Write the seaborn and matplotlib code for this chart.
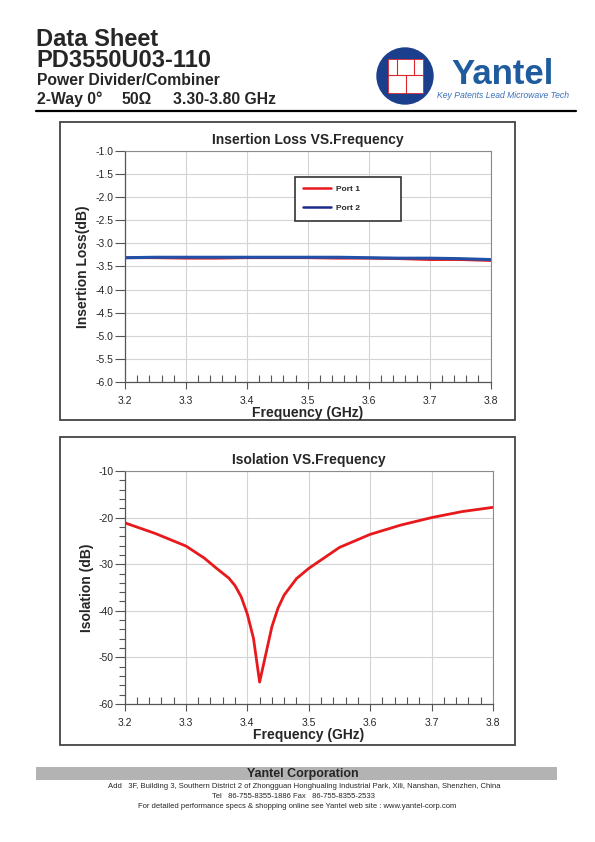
import matplotlib
matplotlib.use("Agg")
import matplotlib.pyplot as plt
import seaborn as sns
from matplotlib.patches import Rectangle, Circle
from matplotlib.lines import Line2D
from matplotlib.ticker import MultipleLocator, FormatStrFormatter

# ---- data ----
il_freq = [3.20, 3.25, 3.30, 3.35, 3.40, 3.45, 3.50, 3.55, 3.60, 3.65, 3.70, 3.75, 3.80]
il_port1 = [-3.31, -3.31, -3.32, -3.32, -3.31, -3.31, -3.31, -3.32, -3.32, -3.33, -3.35, -3.35, -3.37]
il_port2 = [-3.31, -3.30, -3.30, -3.30, -3.30, -3.30, -3.30, -3.30, -3.31, -3.32, -3.32, -3.33, -3.35]

iso_freq = [3.20, 3.25, 3.30, 3.33, 3.35, 3.37, 3.38, 3.39, 3.40, 3.41, 3.42,
            3.44, 3.45, 3.46, 3.48, 3.50, 3.55, 3.60, 3.65, 3.70, 3.75, 3.80]
iso_db = [-21.1, -23.4, -26.1, -28.7, -30.9, -33.0, -34.6, -37.0, -40.7, -45.9, -55.3,
          -43.4, -39.4, -36.6, -33.1, -30.9, -26.4, -23.6, -21.6, -20.0, -18.7, -17.8]

x_ticks = [3.2, 3.3, 3.4, 3.5, 3.6, 3.7, 3.8]
legend_labels = ["Port 1", "Port 2"]

sns.set_style("white")
plt.rcParams['font.family'] = ['Liberation Sans', 'DejaVu Sans']
plt.rcParams['axes.unicode_minus'] = False

W, H = 595, 842
fig = plt.figure(figsize=(W / 100, H / 100), dpi=100)

# overlay axes in pixel coordinates for the page decoration
deco = fig.add_axes([0, 0, 1, 1])
deco.set_xlim(0, W)
deco.set_ylim(H, 0)
deco.axis('off')


def px_axes(x0, y0, x1, y1):
    return fig.add_axes([x0 / W, 1 - y1 / H, (x1 - x0) / W, (y1 - y0) / H])


# ---- header ----
deco.text(36, 46, "Data Sheet", fontsize=17, fontweight='bold', va='baseline')
deco.text(36, 67, "PD3550U03-110", fontsize=17, fontweight='bold', va='baseline')
deco.text(37, 85, "Power Divider/Combiner", fontsize=11.3, fontweight='bold', va='baseline')
deco.text(37, 104, "2-Way 0°", fontsize=11.3, fontweight='bold', va='baseline')
deco.text(121, 104, "50Ω", fontsize=11.3, fontweight='bold', va='baseline')
deco.text(173, 104, "3.30-3.80 GHz", fontsize=11.3, fontweight='bold', va='baseline')
deco.plot([36, 576], [111, 111], color='black', lw=1.6)

# logo
deco.add_patch(Circle((405, 76), 28, color='#1b3f8c'))
deco.add_patch(Rectangle((388, 59), 35, 34, facecolor='white', edgecolor='#d9262c', lw=0.6))
deco.plot([388, 423], [75, 75], color='#d9262c', lw=0.8)
deco.plot([397, 397], [59, 75], color='#d9262c', lw=0.8)
deco.plot([414, 414], [59, 75], color='#d9262c', lw=0.8)
deco.plot([406, 406], [75, 93], color='#d9262c', lw=0.8)
deco.text(451, 84, "Yantel", fontsize=25, fontweight='bold', color='#1f5c9e',
          family=['Liberation Sans'], va='baseline')
deco.text(437, 96, "Key Patents Lead Microwave Tech", fontsize=6.2, style='italic',
          color='#3a70b8', va='center')

# chart frames
deco.add_patch(Rectangle((60, 122), 455, 298, fill=False, edgecolor='#444444', lw=1.3))
deco.add_patch(Rectangle((60, 437), 455, 308, fill=False, edgecolor='#444444', lw=1.3))

# ---- footer ----
deco.add_patch(Rectangle((36, 767), 521, 13, color='#b3b3b3', lw=0))
deco.text(303, 773.5, "Yantel Corporation", fontsize=9, fontweight='bold', ha='center', va='center')
deco.text(304, 787, "Add   3F, Building 3, Southern District 2 of Zhongguan Honghualing Industrial Park, Xili, Nanshan, Shenzhen, China",
          fontsize=5.5, ha='center', va='center')
deco.text(293, 797, "Tel   86-755-8355-1886 Fax   86-755-8355-2533", fontsize=5.5, ha='center', va='center')
deco.text(297, 806, "For detailed performance specs & shopping online see Yantel web site : www.yantel-corp.com",
          fontsize=5.5, ha='center', va='center')


def style_axes(ax):
    ax.set_facecolor('white')
    ax.grid(True, which='major', color='#d4d4d4', lw=0.8)
    ax.set_axisbelow(True)
    for side in ['top', 'right']:
        ax.spines[side].set_color('#8a8a8a')
        ax.spines[side].set_linewidth(0.8)
    for side in ['left', 'bottom']:
        ax.spines[side].set_color('#555555')
        ax.spines[side].set_linewidth(0.9)
    ax.set_xlim(3.2, 3.8)
    ax.set_xticks(x_ticks)
    ax.xaxis.set_major_formatter(FormatStrFormatter('%.1f'))
    ax.xaxis.set_minor_locator(MultipleLocator(0.02))
    ax.tick_params(axis='x', which='major', direction='out', length=5, width=0.8,
                   color='#555555', labelsize=7.5, pad=5, bottom=True)
    ax.tick_params(axis='x', which='minor', direction='in', length=5, width=0.8,
                   color='#555555', bottom=True)
    ax.tick_params(axis='y', which='major', direction='out', length=7, width=0.8,
                   color='#555555', labelsize=7.5, pad=1, left=True)
    ax.set_xlabel("Frequency (GHz)", fontsize=10, fontweight='bold', labelpad=0)


# ---- insertion loss ----
ax1 = px_axes(125, 151, 490.5, 382)
sns.lineplot(x=il_freq, y=il_port1, ax=ax1, color='#e8191c', lw=2.0)
sns.lineplot(x=il_freq, y=il_port2, ax=ax1, color='#2150a8', lw=2.2)
style_axes(ax1)
ax1.set_ylim(-6.0, -1.0)
ax1.yaxis.set_major_locator(MultipleLocator(0.5))
ax1.yaxis.set_major_formatter(FormatStrFormatter('%.1f'))
ax1.set_ylabel("Insertion Loss(dB)", fontsize=10, fontweight='bold', labelpad=4)
ax1.set_title("Insertion Loss VS.Frequency", fontsize=10, fontweight='bold', pad=5)
handles = [Line2D([], [], color='#e8191c', lw=1.8), Line2D([], [], color='#1c2a8c', lw=1.8)]
leg = ax1.legend(handles, legend_labels, loc='upper left',
                 bbox_to_anchor=(0.465, 0.684, 0.29, 0.203), mode='expand',
                 prop={'size': 6, 'weight': 'bold'}, frameon=True, fancybox=False,
                 handlelength=3.3, handletextpad=0.6, labelspacing=1.35,
                 borderpad=1.0, borderaxespad=0, framealpha=1)
leg.get_frame().set_edgecolor('#333333')
leg.get_frame().set_linewidth(1.2)

# ---- isolation ----
ax2 = px_axes(124.5, 471, 493, 704)
sns.lineplot(x=iso_freq, y=iso_db, ax=ax2, color='#e8191c', lw=2.0)
style_axes(ax2)
ax2.set_ylim(-60, -10)
ax2.yaxis.set_major_locator(MultipleLocator(10))
ax2.yaxis.set_minor_locator(MultipleLocator(2))
ax2.tick_params(axis='y', which='minor', direction='out', length=4, width=0.8,
                color='#555555', left=True)
ax2.set_ylabel("Isolation (dB)", fontsize=10, fontweight='bold', labelpad=3)
ax2.set_title("Isolation VS.Frequency", fontsize=10, fontweight='bold', pad=5)

fig.savefig("out.png", dpi=100)
